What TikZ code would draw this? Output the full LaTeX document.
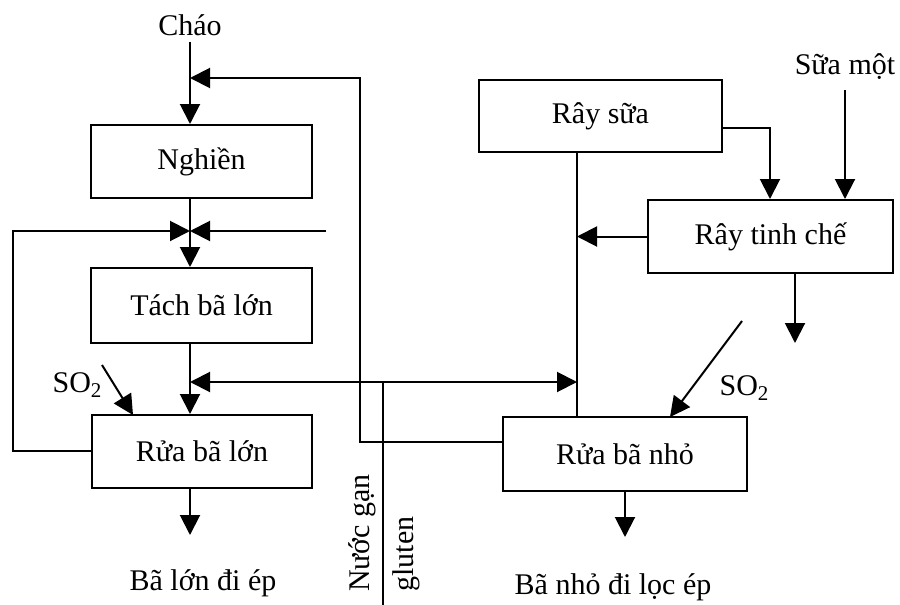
\documentclass[tikz,border=0pt]{standalone}
\usepackage{fontspec}
\setmainfont{Liberation Serif}
\usetikzlibrary{arrows.meta,calc}
\newcommand{\sotwo}{SO\raisebox{-0.35ex}{\fontsize{10.5}{12}\selectfont 2}}
\begin{document}
\begin{tikzpicture}[x=0.5pt,y=-0.5pt,
  font=\fontsize{15}{17}\selectfont,
  box/.style={draw, line width=1pt, inner sep=0pt},
  lbl/.style={inner sep=1pt},
  flow/.style={line width=1pt},
  arr/.style={flow,-{Triangle[length=10pt,width=10pt]}},
  darr/.style={flow,{Triangle[length=10pt,width=10pt]}-{Triangle[length=10pt,width=10pt]}}]
\useasboundingbox (0,0) rectangle (900,605);

% boxes
\node[box, minimum width=110.5pt, minimum height=36.5pt] (ngh) at (201.5,161.5) {Nghiền};
\node[box, minimum width=110.5pt, minimum height=37.5pt] (tbl) at (201.5,305.5) {Tách bã lớn};
\node[box, minimum width=110pt, minimum height=36.5pt] (rbl) at (202,451.5) {Rửa bã lớn};
\node[box, minimum width=121.5pt, minimum height=36pt] (rs) at (600.5,116) {Rây sữa};
\node[box, minimum width=122.5pt, minimum height=36.5pt] (rtc) at (770.5,236.5) {Rây tinh chế};
\node[box, minimum width=122pt, minimum height=37pt] (rbn) at (625,454) {Rửa bã nhỏ};

% labels
\node[lbl, anchor=south] (chao) at (190,38) {Cháo};
\node[lbl, anchor=south] (sm) at (845,82) {Sữa một};
\node[lbl] (so2l) at (77,385) {\sotwo};
\node[lbl] (so2r) at (744,388) {\sotwo};
\node[lbl] (blep) at (203,583) {Bã lớn đi ép};
\node[lbl] (bnep) at (613,587) {Bã nhỏ đi lọc ép};
\node[lbl, rotate=90] (nuoc) at (362,533) {Nước gạn};
\node[lbl, rotate=90] (glu) at (406,554) {gluten};

% coordinates
\coordinate (j1) at (190,78);
\coordinate (j2) at (190,231);
\coordinate (j3) at (190,382);
\coordinate (j4) at (577,382);
\coordinate (rbnL) at (503,442);
\coordinate (b1) at (360,442);
\coordinate (b2) at (360,78);
\coordinate (rblL) at (92,451);
\coordinate (b3) at (13,451);
\coordinate (b4) at (13,231);
\coordinate (fr) at (326,231);
\coordinate (g1) at (383,382);
\coordinate (g2) at (383,605);
\coordinate (s1) at (102,365);
\coordinate (s1e) at (133,415);
\coordinate (s2) at (742,321);
\coordinate (s2e) at (670,417);
\coordinate (rsR) at (722,128);
\coordinate (b5) at (770,128);
\coordinate (rsB) at (577,152);
\coordinate (rsBe) at (577,417);
\coordinate (rtcB) at (795,273);
\coordinate (rtcBe) at (795,343);
\coordinate (rblB) at (190,488);
\coordinate (rblBe) at (190,535);
\coordinate (rbnB) at (625,491);
\coordinate (rbnBe) at (625,537);

% main left column
\draw[arr] (chao.south |- 0,42) -- (chao.south |- ngh.north);
\draw[arr] (rbnL) -- (b1) -- (b2) -- (j1);
\draw[arr] (ngh.south -| j2) -- (tbl.north -| j2);
\draw[arr] (rblL) -- (b3) -- (b4) -- (j2);
\draw[arr] (fr) -- (j2);
\draw[arr] (tbl.south -| j3) -- (rbl.north -| j3);
\draw[darr] (j3) -- (j4);
\draw[flow] (g1) -- (g2);
\draw[arr] (s1) -- (s1e);
\draw[arr] (rblB) -- (rblBe);

% right column
\draw[arr] (rsR) -- (b5) -- (b5 |- rtc.north);
\draw[arr] (sm.south |- 0,90) -- (sm.south |- rtc.north);
\draw[arr] (rtc.west) -- (rtc.west -| rsB);
\draw[flow] (rsB) -- (rsBe);
\draw[arr] (rtcB) -- (rtcBe);
\draw[arr] (s2) -- (s2e);
\draw[arr] (rbnB) -- (rbnBe);
\end{tikzpicture}
\end{document}
